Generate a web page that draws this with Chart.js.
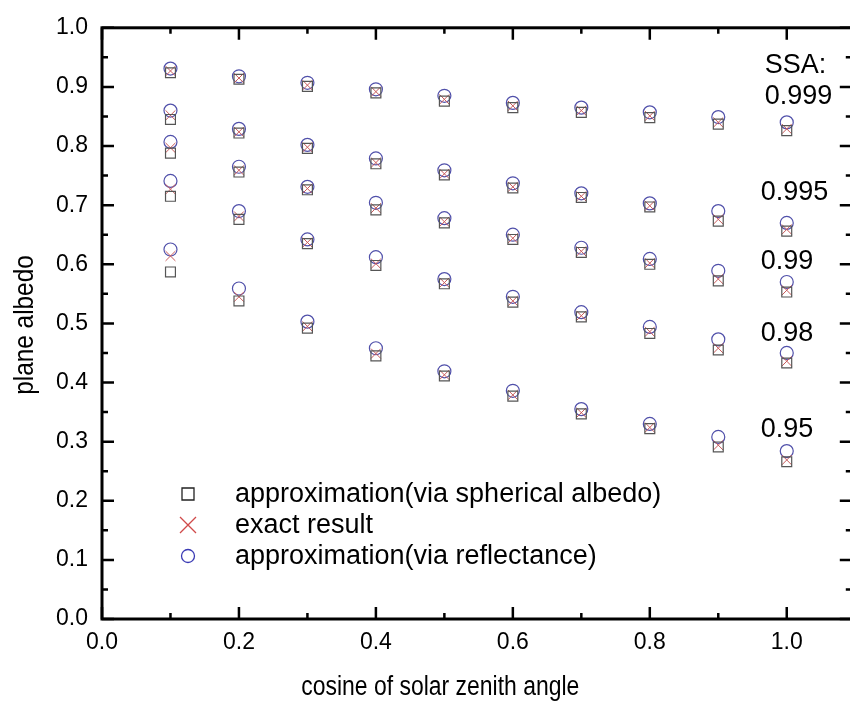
<!DOCTYPE html>
<html>
<head>
<meta charset="utf-8">
<script src="https://cdn.jsdelivr.net/npm/chart.js@4.4.1/dist/chart.umd.min.js"></script>
<style>
html, body { margin: 0; padding: 0; overflow: hidden; background: #fff; }
#wrap { width: 860px; height: 706px; }
</style>
</head>
<body>
<div id="wrap"><canvas id="albedo"></canvas></div>
<script>
const cosZenith = [0.1, 0.2, 0.3, 0.4, 0.5, 0.6, 0.7, 0.8, 0.9, 1.0];
const ssaLevels = ['0.999', '0.995', '0.99', '0.98', '0.95'];
const xTicks = [0, 0.2, 0.4, 0.6, 0.8, 1.0];
const yTicks = [0, 0.1, 0.2, 0.3, 0.4, 0.5, 0.6, 0.7, 0.8, 0.9, 1.0];

// approximation via spherical albedo (squares)
const sph999 = [0.924, 0.913, 0.901, 0.890, 0.876, 0.865, 0.857, 0.848, 0.837, 0.826];
const sph995 = [0.845, 0.822, 0.796, 0.770, 0.751, 0.729, 0.713, 0.697, 0.673, 0.656];
const sph99  = [0.788, 0.756, 0.726, 0.692, 0.670, 0.642, 0.620, 0.600, 0.572, 0.553];
const sph98  = [0.715, 0.676, 0.635, 0.598, 0.567, 0.536, 0.511, 0.483, 0.455, 0.433];
const sph95  = [0.587, 0.538, 0.492, 0.445, 0.411, 0.377, 0.347, 0.322, 0.291, 0.266];

// exact result (crosses)
const exact999 = [0.927, 0.915, 0.903, 0.892, 0.879, 0.868, 0.860, 0.851, 0.840, 0.829];
const exact995 = [0.852, 0.824, 0.798, 0.772, 0.753, 0.731, 0.715, 0.699, 0.676, 0.659];
const exact99  = [0.797, 0.759, 0.728, 0.695, 0.672, 0.644, 0.622, 0.602, 0.575, 0.556];
const exact98  = [0.727, 0.681, 0.637, 0.601, 0.569, 0.538, 0.513, 0.486, 0.458, 0.436];
const exact95  = [0.614, 0.545, 0.495, 0.449, 0.413, 0.379, 0.349, 0.324, 0.294, 0.269];

// approximation via reflectance (circles)
const refl999 = [0.931, 0.918, 0.907, 0.896, 0.885, 0.873, 0.865, 0.857, 0.849, 0.840];
const refl995 = [0.860, 0.829, 0.802, 0.779, 0.759, 0.737, 0.720, 0.703, 0.690, 0.670];
const refl99  = [0.807, 0.765, 0.731, 0.704, 0.678, 0.650, 0.628, 0.609, 0.589, 0.570];
const refl98  = [0.741, 0.690, 0.642, 0.612, 0.575, 0.545, 0.519, 0.494, 0.473, 0.450];
const refl95  = [0.625, 0.559, 0.503, 0.458, 0.419, 0.386, 0.355, 0.330, 0.308, 0.284];

// where the SSA labels sit (y in axis units)
const ssaTitleAt = 0.936;
const ssaLabelAt = [0.883, 0.722, 0.605, 0.483, 0.320];

const FONT = "'Liberation Sans', Arial, sans-serif";

function toPoints(rows) {
    return rows.flatMap(r => r.map((v, i) => ({x: cosZenith[i], y: v})));
}

const frameTicks = {
    id: 'frameTicks',
    afterDatasetsDraw(chart) {
        const {ctx, chartArea: a, scales: {x, y}} = chart;
        ctx.save();
        ctx.strokeStyle = '#000';
        ctx.lineWidth = 3;
        ctx.strokeRect(a.left, a.top, a.right - a.left, a.bottom - a.top);
        ctx.lineWidth = 2.5;
        ctx.beginPath();
        for (let i = 0; i <= 10; i++) {
            const p = x.getPixelForValue(i / 10);
            const len = i % 2 === 0 ? 12 : 6;
            ctx.moveTo(p, a.bottom); ctx.lineTo(p, a.bottom - len);
            ctx.moveTo(p, a.top); ctx.lineTo(p, a.top + len);
        }
        for (let i = 0; i <= 20; i++) {
            const p = y.getPixelForValue(i / 20);
            const len = i % 2 === 0 ? 12 : 6;
            ctx.moveTo(a.left, p); ctx.lineTo(a.left + len, p);
            ctx.moveTo(a.right, p); ctx.lineTo(a.right - len, p);
        }
        ctx.stroke();

        ctx.fillStyle = '#000';
        ctx.textBaseline = 'middle';

        // axis titles (the source text is a bit condensed)
        ctx.textAlign = 'center';
        ctx.save();
        ctx.translate(x.getPixelForValue(0.494), 688);
        ctx.scale(0.85, 1);
        ctx.font = '27px ' + FONT;
        ctx.fillText('cosine of solar zenith angle', 0, 0);
        ctx.restore();
        ctx.save();
        ctx.translate(25, 325);
        ctx.rotate(-Math.PI / 2);
        ctx.scale(0.87, 1);
        ctx.font = '28px ' + FONT;
        ctx.fillText('plane albedo', 0, 0);
        ctx.restore();

        // SSA labels
        ctx.font = '27px ' + FONT;
        ctx.textAlign = 'left';
        const lx = x.getPixelForValue(0.962);
        ctx.fillText('SSA:', lx + 4, y.getPixelForValue(ssaTitleAt));
        ssaLevels.forEach((s, i) => {
            ctx.fillText(s, i === 0 ? lx + 4 : lx, y.getPixelForValue(ssaLabelAt[i]));
        });

        // legend
        const lgX = a.left + 86, lgY = a.bottom - 125, row = 31;
        ctx.font = '27px ' + FONT;
        chart.data.datasets.forEach((ds, i) => {
            const cy = lgY + i * row;
            ctx.strokeStyle = ds.legendColor;
            ctx.lineWidth = 1.3;
            ctx.beginPath();
            if (ds.pointStyle === 'rect') {
                ctx.rect(lgX - 6, cy - 6, 12, 12);
            } else if (ds.pointStyle === 'crossRot') {
                ctx.moveTo(lgX - 8, cy - 8); ctx.lineTo(lgX + 8, cy + 8);
                ctx.moveTo(lgX + 8, cy - 8); ctx.lineTo(lgX - 8, cy + 8);
            } else {
                ctx.arc(lgX, cy, 6.5, 0, Math.PI * 2);
            }
            ctx.stroke();
            ctx.fillStyle = '#000';
            ctx.fillText(ds.label, lgX + 47, cy + 1);
        });
        ctx.restore();
    }
};

const ctx = document.getElementById('albedo').getContext('2d');
const albedoChart = new Chart(ctx, {
    type: 'scatter',
    data: {
        datasets: [
            {
                label: 'approximation(via spherical albedo)',
                data: toPoints([sph999, sph995, sph99, sph98, sph95]),
                pointStyle: 'rect',
                pointRadius: 7,
                borderColor: '#555555',
                legendColor: '#222222',
                backgroundColor: 'rgba(0,0,0,0)',
                borderWidth: 1.2
            },
            {
                label: 'exact result',
                data: toPoints([exact999, exact995, exact99, exact98, exact95]),
                pointStyle: 'crossRot',
                pointRadius: 7,
                borderColor: '#c85a5a',
                legendColor: '#d04a4a',
                backgroundColor: 'rgba(0,0,0,0)',
                borderWidth: 1
            },
            {
                label: 'approximation(via reflectance)',
                data: toPoints([refl999, refl995, refl99, refl98, refl95]),
                pointStyle: 'circle',
                pointRadius: 6.5,
                borderColor: '#5050aa',
                legendColor: '#3a3ab4',
                backgroundColor: 'rgba(0,0,0,0)',
                borderWidth: 1.2
            }
        ]
    },
    options: {
        responsive: true,
        maintainAspectRatio: false,
        animation: false,
        layout: { padding: { top: 22, right: 8, left: 0, bottom: 0 } },
        plugins: {
            legend: { display: false },
            tooltip: { enabled: false }
        },
        scales: {
            x: {
                type: 'linear',
                min: 0,
                max: 1.095,
                afterBuildTicks: s => { s.ticks = xTicks.map(v => ({value: v})); },
                afterFit: s => { s.height = 87; },
                grid: { display: false, drawTicks: false },
                border: { display: false },
                ticks: {
                    padding: 10,
                    color: '#000',
                    font: { size: 23, family: FONT },
                    maxRotation: 0,
                    autoSkip: false,
                    callback: v => v.toFixed(1)
                }
            },
            y: {
                type: 'linear',
                min: 0,
                max: 1,
                afterBuildTicks: s => { s.ticks = yTicks.map(v => ({value: v})); },
                afterFit: s => { s.width = 102; },
                grid: { display: false, drawTicks: false },
                border: { display: false },
                ticks: {
                    padding: 14,
                    color: '#000',
                    font: { size: 23, family: FONT },
                    autoSkip: false,
                    callback: v => v.toFixed(1)
                }
            }
        }
    },
    plugins: [frameTicks]
});
</script>
</body>
</html>
